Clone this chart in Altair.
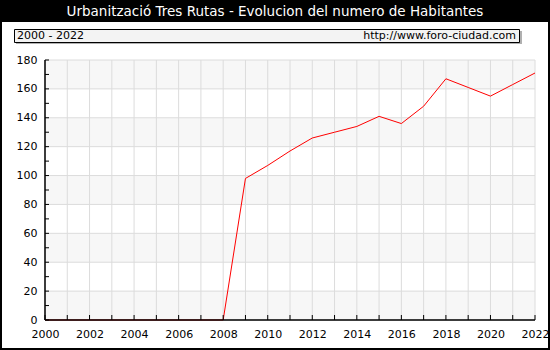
import altair as alt
import pandas as pd

years = list(range(2000, 2023))
habitantes = [0, 0, 0, 0, 0, 0, 0, 0, 0, 98, 107, 117, 126, 130, 134, 141, 136, 148, 167, 161, 155, 163, 171]
band_starts = [0, 40, 80, 120, 160]
band_ends = [20, 60, 100, 140, 180]
y_ticks = list(range(0, 181, 20))
y_minor = list(range(0, 181, 10))
title_text = "Urbanització Tres Rutas - Evolucion del numero de Habitantes"
range_text = "2000 - 2022"
url_text = "http://www.foro-ciudad.com"

W, H = 490, 260
FONT = "DejaVu Sans"
GRID = "#dcdcdc"

df = pd.DataFrame({"year": years, "hab": habitantes})
bands = pd.DataFrame({"y0": band_starts, "y1": band_ends})
ytk = pd.DataFrame({"v": y_minor})
ygr = pd.DataFrame({"v": y_ticks})
xtk = pd.DataFrame({"year": years})
one = pd.DataFrame({"a": [0]})

xscale = alt.Scale(domain=[2000, 2022], nice=False, zero=False)
yscale = alt.Scale(domain=[0, 180], nice=False, zero=True)

xaxis = alt.Axis(
    values=years, grid=False, domain=False, ticks=False,
    labelExpr="datum.value % 2 == 0 ? datum.label : ''", format="d",
    labelPadding=8, labelFont=FONT, labelFontSize=11, labelColor="black",
    labelOverlap=False, labelFlush=False, labelBound=False, title=None)
yaxis = alt.Axis(
    values=y_ticks, grid=False, domain=False, ticks=False, labelOverlap=False,
    labelFlush=False, labelBound=False, format="d",
    labelPadding=8, labelFont=FONT, labelFontSize=11, labelColor="black", title=None)

band_layer = alt.Chart(bands).mark_rect(fill="#f7f7f7").encode(
    x=alt.value(0), x2=alt.value(W),
    y=alt.Y("y0:Q", scale=yscale, axis=yaxis),
    y2="y1:Q",
)

grid_x = alt.Chart(xtk).mark_rule(color=GRID).encode(
    x=alt.X("year:Q", scale=xscale, axis=xaxis),
    y=alt.value(0), y2=alt.value(H),
)
grid_y = alt.Chart(ygr).mark_rule(color=GRID).encode(
    y=alt.Y("v:Q", scale=yscale, axis=yaxis),
    x=alt.value(0), x2=alt.value(W)
)

line = alt.Chart(df).mark_line(color="#ff0000", strokeWidth=1).encode(
    x=alt.X("year:Q", scale=xscale, axis=xaxis),
    y=alt.Y("hab:Q", scale=yscale, axis=yaxis),
)

x_ticks = alt.Chart(xtk).mark_rule(color="black").encode(
    x=alt.X("year:Q", scale=xscale, axis=xaxis), y=alt.value(H - 5), y2=alt.value(H)
)
y_ticks_l = alt.Chart(ytk).mark_rule(color="black").encode(
    y=alt.Y("v:Q", scale=yscale, axis=yaxis), x=alt.value(0), x2=alt.value(4)
)

base1 = alt.Chart(one)
frame_b = base1.mark_rule(color="black", strokeWidth=1.5).encode(
    x=alt.value(0), x2=alt.value(W), y=alt.value(H))
frame_l = base1.mark_rule(color="black", strokeWidth=1.5).encode(
    x=alt.value(0), y=alt.value(0), y2=alt.value(H))

title_bar = base1.mark_rect(fill="black").encode(
    x=alt.value(-45), x2=alt.value(505), y=alt.value(-60), y2=alt.value(-38))
title = base1.mark_text(color="white", font=FONT, fontSize=13.5, align="center", baseline="middle").encode(
    x=alt.value(230), y=alt.value(-48.5), text=alt.value(title_text))

shadow = base1.mark_rect(fill="#b0b0b0").encode(
    x=alt.value(-29), x2=alt.value(477), y=alt.value(-29), y2=alt.value(-16))
box = base1.mark_rect(fill="#f3f3f3", stroke="black", strokeWidth=1).encode(
    x=alt.value(-30.5), x2=alt.value(474.5), y=alt.value(-30.5), y2=alt.value(-17.5))
t_range = base1.mark_text(color="black", font=FONT, fontSize=11, align="left", baseline="middle").encode(
    x=alt.value(-28), y=alt.value(-24), text=alt.value(range_text))
t_url = base1.mark_text(color="black", font=FONT, fontSize=11, align="right", baseline="middle").encode(
    x=alt.value(471), y=alt.value(-24), text=alt.value(url_text))

border = base1.mark_rect(fill=None, stroke="black", strokeWidth=2).encode(
    x=alt.value(-44), x2=alt.value(504), y=alt.value(-59), y2=alt.value(289))

chart = alt.layer(
    band_layer, grid_x, grid_y, line, x_ticks, y_ticks_l, frame_b, frame_l,
    title_bar, title, shadow, box, t_range, t_url, border
).properties(
    width=W, height=H,
    autosize=alt.AutoSizeParams(type="none"),
    padding={"left": 45, "top": 60, "right": 15, "bottom": 30},
    background="white",
).configure_view(stroke=None)

chart.save("out.html", embed_options={"renderer": "svg", "actions": False})
